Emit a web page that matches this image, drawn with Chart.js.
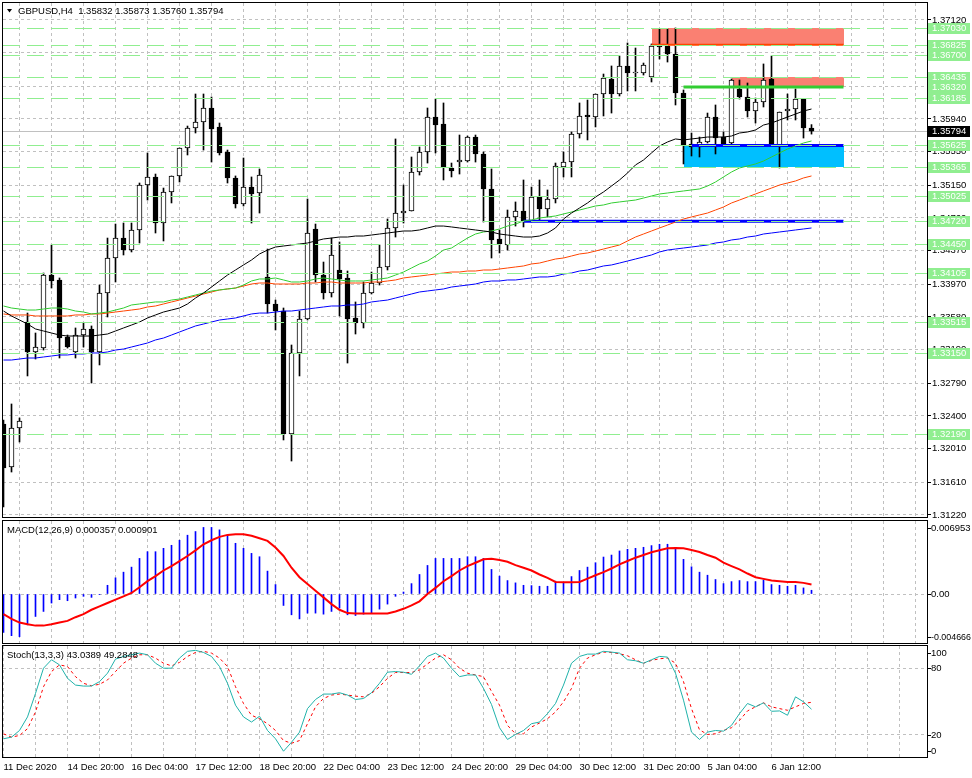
<!DOCTYPE html>
<html>
<head>
<meta charset="utf-8">
<title>GBPUSD,H4</title>
<script src="https://cdn.jsdelivr.net/npm/chart.js@4.4.1/dist/chart.umd.min.js"></script>
<style>
  html, body { margin: 0; padding: 0; background: #fff; }
  #wrap { position: relative; width: 972px; height: 778px; overflow: hidden; }
  canvas { position: absolute; left: 0; }
  #main { top: 0; }
  #macd { top: 519px; }
  #stoch { top: 645px; }
</style>
</head>
<body>
<div id="wrap">
  <canvas id="main" width="972" height="519"></canvas>
  <canvas id="macd" width="972" height="126"></canvas>
  <canvas id="stoch" width="972" height="133"></canvas>
</div>
<script>
// GBPUSD H4 with four moving averages, MACD and stochastic below
const symbol = 'GBPUSD,H4';

// H4 candles, oldest first
const priceOpen = [
  1.32304, 1.31792, 1.32257, 1.33520, 1.33163, 1.33210, 1.34080, 1.34021, 1.33341, 1.33163,
  1.33365, 1.33437, 1.33163, 1.33866, 1.34283, 1.34521, 1.34378, 1.34617, 1.35153, 1.35249,
  1.34700, 1.35070, 1.35261, 1.35594, 1.35833, 1.35904, 1.36071, 1.35845, 1.35547, 1.35237,
  1.34927, 1.35129, 1.35058, 1.34057, 1.33735, 1.33651, 1.32185, 1.33151, 1.33556, 1.34629,
  1.34080, 1.33866, 1.34140, 1.34045, 1.33568, 1.33508, 1.33866, 1.33985, 1.34176, 1.34641,
  1.34819, 1.34843, 1.35308, 1.35547, 1.35964, 1.35880, 1.35356, 1.35427, 1.35439, 1.35725,
  1.35523, 1.35106, 1.34510, 1.34438, 1.34772, 1.34843, 1.34724, 1.35010, 1.34867, 1.34986,
  1.35368, 1.35427, 1.35761, 1.35988, 1.35964, 1.36238, 1.36417, 1.36238, 1.36572, 1.36488,
  1.36488, 1.36441, 1.36810, 1.36810, 1.36715, 1.36250, 1.35642, 1.35606, 1.35666, 1.35964,
  1.35725, 1.35654, 1.36298, 1.36202, 1.36035, 1.36143, 1.36417, 1.35618, 1.36035, 1.36059,
  1.36178, 1.35832
];
const priceHigh = [
  1.32352, 1.32543, 1.32376, 1.33627, 1.33389, 1.34104, 1.34438, 1.34045, 1.33365, 1.33449,
  1.33508, 1.33473, 1.33961, 1.34521, 1.34688, 1.34700, 1.34700, 1.35177, 1.35535, 1.35284,
  1.35117, 1.35261, 1.35594, 1.35856, 1.36238, 1.36238, 1.36202, 1.35892, 1.35570, 1.35261,
  1.35475, 1.35249, 1.35344, 1.34390, 1.33782, 1.33687, 1.33246, 1.33651, 1.34986, 1.34688,
  1.34235, 1.34521, 1.34474, 1.34128, 1.33759, 1.33997, 1.34116, 1.34438, 1.34748, 1.35702,
  1.35153, 1.35487, 1.35606, 1.36071, 1.36178, 1.36131, 1.35415, 1.35749, 1.35737, 1.35749,
  1.35547, 1.35344, 1.34617, 1.34855, 1.34951, 1.35213, 1.35129, 1.35213, 1.35094, 1.35415,
  1.35547, 1.35785, 1.36131, 1.36166, 1.36238, 1.36476, 1.36572, 1.36691, 1.36846, 1.36786,
  1.36607, 1.36834, 1.37013, 1.37013, 1.37025, 1.36286, 1.35773, 1.35725, 1.36011, 1.36107,
  1.35785, 1.36417, 1.36405, 1.36369, 1.36190, 1.36596, 1.36691, 1.36023, 1.36238, 1.36298,
  1.36178, 1.35873
];
const priceLow = [
  1.31315, 1.31732, 1.32090, 1.32877, 1.33079, 1.33186, 1.33925, 1.33091, 1.33210, 1.33091,
  1.33222, 1.32793, 1.33008, 1.33580, 1.33997, 1.34319, 1.34355, 1.34462, 1.34974, 1.34581,
  1.34486, 1.34939, 1.35189, 1.35511, 1.35773, 1.35570, 1.35427, 1.35511, 1.35177, 1.34879,
  1.34903, 1.34700, 1.34819, 1.33627, 1.33425, 1.32114, 1.31863, 1.32877, 1.33544, 1.33997,
  1.33794, 1.33818, 1.33592, 1.33031, 1.33377, 1.33449, 1.33854, 1.33961, 1.34140, 1.34533,
  1.34700, 1.34843, 1.35272, 1.35415, 1.35535, 1.35213, 1.35249, 1.35284, 1.35427, 1.35427,
  1.34712, 1.34283, 1.34343, 1.34378, 1.34664, 1.34653, 1.34712, 1.34736, 1.34772, 1.34939,
  1.35249, 1.35249, 1.35713, 1.35690, 1.35845, 1.35976, 1.36011, 1.36214, 1.36274, 1.36274,
  1.36464, 1.36381, 1.36655, 1.36619, 1.36107, 1.35404, 1.35499, 1.35487, 1.35654, 1.35523,
  1.35630, 1.35642, 1.36178, 1.35964, 1.35892, 1.36083, 1.35618, 1.35356, 1.35928, 1.35928,
  1.35713, 1.35760
];
const priceClose = [
  1.31780, 1.32257, 1.32340, 1.33163, 1.33222, 1.34080, 1.34009, 1.33329, 1.33222, 1.33365,
  1.33437, 1.33163, 1.33866, 1.34283, 1.34521, 1.34378, 1.34617, 1.35153, 1.35249, 1.34700,
  1.35070, 1.35261, 1.35594, 1.35833, 1.35904, 1.36071, 1.35821, 1.35535, 1.35237, 1.34927,
  1.35129, 1.35046, 1.35272, 1.33735, 1.33651, 1.32185, 1.33151, 1.33556, 1.34581, 1.34080,
  1.33866, 1.34319, 1.34033, 1.33556, 1.33508, 1.33866, 1.33985, 1.34176, 1.34641, 1.34819,
  1.34843, 1.35308, 1.35547, 1.35964, 1.35868, 1.35368, 1.35320, 1.35451, 1.35725, 1.35523,
  1.35106, 1.34498, 1.34450, 1.34772, 1.34843, 1.34724, 1.35010, 1.34867, 1.34986, 1.35380,
  1.35427, 1.35761, 1.35976, 1.35964, 1.36238, 1.36429, 1.36238, 1.36572, 1.36488, 1.36500,
  1.36584, 1.36810, 1.36798, 1.36715, 1.36250, 1.35630, 1.35606, 1.35666, 1.35964, 1.35713,
  1.35642, 1.36405, 1.36202, 1.36035, 1.36143, 1.36405, 1.35618, 1.36023, 1.36059, 1.36178,
  1.35833, 1.35794
];

// moving averages on the price window
const maBlack = [
  1.33651, 1.33592, 1.33544, 1.33496, 1.33437, 1.33413, 1.33389, 1.33365, 1.33353, 1.33353,
  1.33353, 1.33353, 1.33365, 1.33377, 1.33413, 1.33449, 1.33484, 1.33520, 1.33568, 1.33604,
  1.33639, 1.33663, 1.33687, 1.33735, 1.33806, 1.33866, 1.33937, 1.34009, 1.34080, 1.34140,
  1.34200, 1.34259, 1.34331, 1.34378, 1.34414, 1.34426, 1.34438, 1.34450, 1.34462, 1.34486,
  1.34510, 1.34521, 1.34533, 1.34533, 1.34545, 1.34545, 1.34557, 1.34569, 1.34581, 1.34593,
  1.34605, 1.34605, 1.34617, 1.34641, 1.34664, 1.34664, 1.34653, 1.34641, 1.34629, 1.34617,
  1.34605, 1.34593, 1.34569, 1.34557, 1.34545, 1.34533, 1.34533, 1.34545, 1.34581, 1.34641,
  1.34748, 1.34819, 1.34879, 1.34939, 1.35010, 1.35070, 1.35141, 1.35213, 1.35296, 1.35392,
  1.35451, 1.35535, 1.35618, 1.35666, 1.35702, 1.35690, 1.35702, 1.35713, 1.35725, 1.35725,
  1.35725, 1.35737, 1.35773, 1.35785, 1.35809, 1.35868, 1.35892, 1.35928, 1.35964, 1.35999,
  1.36035, 1.36059
];
const maGreen = [
  1.33711, 1.33687, 1.33675, 1.33663, 1.33663, 1.33675, 1.33687, 1.33687, 1.33675, 1.33651,
  1.33639, 1.33616, 1.33627, 1.33639, 1.33663, 1.33687, 1.33723, 1.33735, 1.33747, 1.33759,
  1.33759, 1.33782, 1.33794, 1.33818, 1.33842, 1.33866, 1.33890, 1.33902, 1.33914, 1.33925,
  1.33961, 1.34009, 1.34033, 1.34033, 1.34045, 1.34021, 1.33997, 1.33997, 1.34009, 1.34033,
  1.34045, 1.34033, 1.34021, 1.34009, 1.34009, 1.34009, 1.34021, 1.34033, 1.34045, 1.34080,
  1.34116, 1.34164, 1.34212, 1.34247, 1.34307, 1.34378, 1.34402, 1.34462, 1.34521, 1.34569,
  1.34593, 1.34605, 1.34629, 1.34664, 1.34688, 1.34724, 1.34736, 1.34760, 1.34772, 1.34784,
  1.34808, 1.34831, 1.34855, 1.34879, 1.34903, 1.34915, 1.34939, 1.34951, 1.34963, 1.34974,
  1.34998, 1.35022, 1.35046, 1.35058, 1.35070, 1.35082, 1.35094, 1.35106, 1.35141, 1.35189,
  1.35249, 1.35308, 1.35356, 1.35380, 1.35404, 1.35439, 1.35487, 1.35535, 1.35582, 1.35618,
  1.35654, 1.35678
];
const maRed = [
  1.33616, 1.33604, 1.33604, 1.33604, 1.33592, 1.33592, 1.33592, 1.33592, 1.33592, 1.33604,
  1.33604, 1.33616, 1.33616, 1.33627, 1.33639, 1.33651, 1.33663, 1.33675, 1.33699, 1.33711,
  1.33735, 1.33759, 1.33782, 1.33806, 1.33830, 1.33854, 1.33878, 1.33902, 1.33914, 1.33925,
  1.33949, 1.33973, 1.33985, 1.33985, 1.33973, 1.33973, 1.33973, 1.33973, 1.33985, 1.33985,
  1.33997, 1.33997, 1.33985, 1.33985, 1.33985, 1.33985, 1.33997, 1.33997, 1.34009, 1.34021,
  1.34045, 1.34057, 1.34068, 1.34080, 1.34092, 1.34104, 1.34116, 1.34116, 1.34128, 1.34128,
  1.34140, 1.34140, 1.34152, 1.34164, 1.34176, 1.34188, 1.34212, 1.34223, 1.34247, 1.34271,
  1.34283, 1.34307, 1.34331, 1.34343, 1.34366, 1.34390, 1.34414, 1.34438, 1.34486, 1.34533,
  1.34569, 1.34605, 1.34641, 1.34676, 1.34712, 1.34748, 1.34772, 1.34796, 1.34819, 1.34855,
  1.34891, 1.34939, 1.34974, 1.35010, 1.35046, 1.35082, 1.35117, 1.35153, 1.35177, 1.35201,
  1.35237, 1.35261
];
const maBlue = [
  1.33067, 1.33067, 1.33079, 1.33091, 1.33091, 1.33103, 1.33115, 1.33127, 1.33127, 1.33139,
  1.33139, 1.33151, 1.33151, 1.33163, 1.33186, 1.33198, 1.33222, 1.33246, 1.33270, 1.33306,
  1.33329, 1.33365, 1.33401, 1.33437, 1.33473, 1.33496, 1.33520, 1.33544, 1.33556, 1.33568,
  1.33592, 1.33616, 1.33627, 1.33627, 1.33639, 1.33651, 1.33651, 1.33663, 1.33675, 1.33687,
  1.33699, 1.33711, 1.33711, 1.33723, 1.33723, 1.33735, 1.33759, 1.33771, 1.33782, 1.33806,
  1.33830, 1.33854, 1.33878, 1.33890, 1.33902, 1.33914, 1.33937, 1.33949, 1.33961, 1.33973,
  1.33997, 1.34009, 1.34009, 1.34021, 1.34021, 1.34033, 1.34045, 1.34057, 1.34057, 1.34068,
  1.34092, 1.34104, 1.34128, 1.34140, 1.34164, 1.34188, 1.34200, 1.34223, 1.34247, 1.34271,
  1.34295, 1.34319, 1.34355, 1.34378, 1.34390, 1.34402, 1.34414, 1.34426, 1.34438, 1.34462,
  1.34474, 1.34498, 1.34510, 1.34533, 1.34545, 1.34569, 1.34581, 1.34593, 1.34605, 1.34617,
  1.34629, 1.34641
];

// MACD(12,26,9): histogram and signal
const macdMain = [
  -0.00365, -0.00397, -0.00406, -0.00294, -0.00214, -0.00166, -0.00086, -0.00054, -0.00064, -0.00038,
  -0.00022, -0.00032, -0.00006, 0.00083, 0.00154, 0.00208, 0.00256, 0.00339, 0.00403, 0.00403,
  0.00435, 0.00464, 0.00512, 0.00560, 0.00595, 0.00634, 0.00634, 0.00611, 0.00563, 0.00483,
  0.00435, 0.00387, 0.00355, 0.00218, 0.00090, -0.00109, -0.00198, -0.00237, -0.00182, -0.00182,
  -0.00192, -0.00166, -0.00134, -0.00198, -0.00205, -0.00192, -0.00182, -0.00144, -0.00096, -0.00022,
  0.00019, 0.00099, 0.00186, 0.00272, 0.00339, 0.00339, 0.00339, 0.00339, 0.00355, 0.00355,
  0.00339, 0.00234, 0.00170, 0.00128, 0.00106, 0.00083, 0.00080, 0.00074, 0.00074, 0.00122,
  0.00112, 0.00166, 0.00224, 0.00256, 0.00298, 0.00352, 0.00371, 0.00410, 0.00426, 0.00435,
  0.00445, 0.00461, 0.00474, 0.00474, 0.00435, 0.00330, 0.00259, 0.00208, 0.00179, 0.00138,
  0.00099, 0.00118, 0.00128, 0.00118, 0.00118, 0.00134, 0.00090, 0.00083, 0.00074, 0.00083,
  0.00058, 0.000357
];
const macdSignal = [
  -0.00192, -0.00237, -0.00272, -0.00288, -0.00301, -0.00301, -0.00288, -0.00272, -0.00256, -0.00221,
  -0.00192, -0.00150, -0.00118, -0.00086, -0.00054, -0.00022, 0.00010, 0.00064, 0.00122, 0.00170,
  0.00224, 0.00266, 0.00314, 0.00362, 0.00416, 0.00474, 0.00512, 0.00544, 0.00563, 0.00570,
  0.00570, 0.00554, 0.00531, 0.00506, 0.00442, 0.00362, 0.00250, 0.00160, 0.00096, 0.00032,
  -0.00032, -0.00096, -0.00150, -0.00182, -0.00186, -0.00186, -0.00186, -0.00186, -0.00186, -0.00166,
  -0.00141, -0.00109, -0.00070, 0.00000, 0.00058, 0.00122, 0.00170, 0.00224, 0.00266, 0.00298,
  0.00330, 0.00336, 0.00323, 0.00307, 0.00275, 0.00250, 0.00224, 0.00186, 0.00154, 0.00115,
  0.00112, 0.00112, 0.00115, 0.00147, 0.00179, 0.00208, 0.00243, 0.00282, 0.00314, 0.00346,
  0.00371, 0.00397, 0.00416, 0.00435, 0.00438, 0.00435, 0.00419, 0.00400, 0.00371, 0.00346,
  0.00298, 0.00266, 0.00234, 0.00195, 0.00160, 0.00144, 0.00128, 0.00122, 0.00115, 0.00115,
  0.00106, 0.000901
];

// Stoch(13,3,3)
const stochMain = [
  16.4, 17.9, 23.9, 36.1, 57.3, 80.0, 87.6, 83.0, 70.9, 64.8,
  63.9, 63.9, 67.9, 75.5, 88.2, 90.6, 92.1, 93.6, 92.1, 84.5,
  80.0, 80.0, 89.1, 95.2, 96.1, 94.2, 90.6, 81.5, 66.4, 46.7,
  36.1, 31.5, 36.7, 23.9, 16.4, 5.2, 13.3, 22.4, 43.6, 51.8,
  56.7, 56.7, 57.9, 55.8, 51.8, 52.7, 57.9, 66.4, 76.4, 77.0,
  76.4, 74.5, 82.1, 90.6, 93.6, 89.1, 80.0, 72.4, 73.9, 73.9,
  61.8, 47.3, 26.4, 15.8, 20.3, 23.9, 30.0, 31.5, 39.1, 48.2,
  64.8, 84.5, 90.6, 92.7, 92.7, 95.2, 94.5, 93.6, 87.6, 86.7,
  84.5, 87.6, 90.6, 90.0, 75.5, 51.2, 22.4, 15.8, 22.4, 23.9,
  23.3, 28.5, 39.1, 48.2, 45.2, 48.8, 41.2, 41.5, 37.6, 54.2,
  49.7, 43.0389
];
const stochSignal = [
  20.9, 17.9, 19.4, 25.5, 40.6, 63.3, 77.0, 83.0, 81.5, 72.4,
  66.4, 64.2, 65.5, 69.4, 77.0, 84.5, 89.1, 92.1, 92.1, 89.1,
  84.5, 82.1, 85.2, 90.6, 94.2, 95.2, 93.6, 89.1, 81.5, 63.3,
  48.2, 37.6, 34.5, 30.0, 23.9, 14.8, 12.4, 14.8, 30.0, 45.2,
  52.7, 55.8, 56.7, 55.8, 54.8, 54.2, 57.3, 63.3, 70.9, 76.1,
  76.1, 76.1, 78.5, 83.9, 89.1, 92.1, 87.6, 80.0, 75.5, 73.9,
  72.4, 59.1, 46.7, 28.5, 20.9, 20.9, 27.0, 30.6, 34.5, 40.6,
  49.7, 61.8, 80.0, 89.1, 92.1, 94.5, 94.2, 93.0, 91.2, 87.6,
  84.5, 87.0, 88.5, 89.1, 84.5, 67.9, 43.6, 24.5, 20.3, 20.9,
  23.9, 26.4, 33.0, 41.5, 45.2, 48.8, 45.2, 43.6, 42.1, 45.2,
  48.2, 49.2848
];

// time scale: one label every 8 bars
const timeLabels = [
  '11 Dec 2020', '14 Dec 20:00', '16 Dec 04:00', '17 Dec 12:00', '18 Dec 20:00',
  '22 Dec 04:00', '23 Dec 12:00', '24 Dec 20:00', '29 Dec 04:00', '30 Dec 12:00',
  '31 Dec 20:00', '5 Jan 04:00', '6 Jan 12:00'
];

// price scale
const priceTickLabels = [
  '1.37120', '1.36730', '1.36330', '1.35940', '1.35550', '1.35150', '1.34760', '1.34370',
  '1.33970', '1.33580', '1.33190', '1.32790', '1.32400', '1.32010', '1.31610', '1.31220'
];
const priceMin = 1.311958;
const priceMax = 1.373226;

// indicator scales
const macdTicks = [0.006953, 0, -0.004666];
const macdTickLabels = ['0.006953', '0.00', '-0.004666'];
const stochTicks = [100, 80, 20, 0];

// dashed horizontal levels (each with a price tag)
const levelPrices = [
  1.37030, 1.36825, 1.36700, 1.36435, 1.36185, 1.35625, 1.35365,
  1.35025, 1.34720, 1.34450, 1.34105, 1.33515, 1.33150, 1.32190
];
const tagOnlyPrices = [1.36320];

// rectangles: bar range and price range
const zoneFrom = [81, 91, 85];
const zoneTo = [105, 105, 105];
const zoneTop = [1.37030, 1.36435, 1.35625];
const zoneBottom = [1.36825, 1.36320, 1.35365];

// solid horizontal segments
const segFrom = [81, 85, 86, 65];
const segTo = [105, 105, 105, 105];
const segPrice = [1.36825, 1.36320, 1.35625, 1.34720];

// ---- drawing ----
const FAMILY = '"Liberation Sans", Arial, sans-serif';
const FONT = '9.5px ' + FAMILY;
const tickFont = { family: FAMILY, size: 9.5 };
const GRID = '#c0c0c0';
const zoneColors = ['#fa8072', '#fa8072', '#00bfff'];
const segColors = ['#ff4500', '#32cd32', '#0000ff', '#0000ff'];
const segWidths = [2, 3, 3, 3];

const last = priceClose.length - 1;
const bars = priceOpen.map((_, i) => i);
const pts = arr => arr.map((v, i) => ({ x: i, y: v }));
const gridBars = [];
for (let b = 0; b <= 112; b += 4) gridBars.push(b);

function timeScale(showLabels) {
  return {
    type: 'linear', min: -0.0625, max: 115.4375, offset: false,
    afterBuildTicks: s => { s.ticks = gridBars.map(v => ({ value: v })); },
    grid: { color: GRID, drawTicks: false },
    border: { display: false, dash: [3, 3] },
    ticks: {
      display: showLabels, autoSkip: false, maxRotation: 0, minRotation: 0,
      align: 'start', padding: 5, color: '#000', font: tickFont,
      callback: v => (v % 8 === 0 && timeLabels[v / 8]) || ''
    },
    afterFit: s => { s.height = showLabels ? 21 : 0; s.paddingLeft = 0; s.paddingRight = 0; }
  };
}

function sideScale(min, max, gridValues) {
  return {
    position: 'right', min, max,
    afterBuildTicks: s => { s.ticks = gridValues.map(v => ({ value: v })); },
    grid: { color: GRID, drawTicks: false },
    border: { display: false, dash: [3, 3] },
    ticks: { display: false },
    afterFit: s => { s.width = 45; s.paddingTop = 0; s.paddingBottom = 0; }
  };
}

const baseOptions = {
  animation: false, responsive: false, maintainAspectRatio: false, events: [],
  plugins: { legend: { display: false }, tooltip: { enabled: false } }
};

function tag(ctx, left, y, text, bg, fg) {
  const yc = Math.round(y);
  ctx.fillStyle = bg;
  ctx.fillRect(left + 1, yc - 5, 42, 11);
  ctx.fillStyle = fg;
  ctx.fillText(text, left + 5, yc + 0.5);
}

const mainDecor = {
  id: 'mainDecor',
  beforeDatasetsDraw(chart) {
    const { ctx, chartArea: a, scales: { x, y } } = chart;
    ctx.save();
    ctx.beginPath();
    ctx.rect(a.left, a.top, a.width, a.height);
    ctx.clip();
    zoneTop.forEach((top, k) => {
      const x0 = Math.round(x.getPixelForValue(zoneFrom[k]));
      const x1 = Math.round(x.getPixelForValue(zoneTo[k]));
      const y0 = Math.round(y.getPixelForValue(top));
      const y1 = Math.round(y.getPixelForValue(zoneBottom[k]));
      ctx.fillStyle = zoneColors[k];
      ctx.fillRect(x0, y0, x1 - x0, y1 - y0);
    });
    // bid line
    const yb = Math.round(y.getPixelForValue(priceClose[last])) + 0.5;
    ctx.strokeStyle = GRID;
    ctx.lineWidth = 1;
    ctx.beginPath();
    ctx.moveTo(a.left, yb);
    ctx.lineTo(a.right, yb);
    ctx.stroke();
    ctx.restore();
  },
  afterDatasetsDraw(chart) {
    const { ctx, chartArea: a, scales: { y } } = chart;
    ctx.save();
    ctx.strokeStyle = '#90ee90';
    ctx.lineWidth = 1;
    ctx.setLineDash([17, 7]);
    levelPrices.forEach(p => {
      const py = Math.round(y.getPixelForValue(p)) + 0.5;
      ctx.beginPath();
      ctx.moveTo(a.left, py);
      ctx.lineTo(a.right, py);
      ctx.stroke();
    });
    ctx.restore();
  },
  afterDraw(chart) {
    const { ctx, chartArea: a, scales: { y } } = chart;
    ctx.save();
    ctx.strokeStyle = '#000';
    ctx.lineWidth = 1;
    ctx.strokeRect(a.left - 0.5, a.top - 0.5, a.width + 1, a.height + 1);
    ctx.font = FONT;
    ctx.textAlign = 'left';
    ctx.textBaseline = 'middle';
    levelPrices.concat(tagOnlyPrices).forEach(p => {
      tag(ctx, a.right, y.getPixelForValue(p), p.toFixed(5), '#90ee90', '#fff');
    });
    tag(ctx, a.right, y.getPixelForValue(priceClose[last]), priceClose[last].toFixed(5), '#000', '#fff');
    // title
    ctx.fillStyle = '#000';
    ctx.beginPath();
    ctx.moveTo(7, 9);
    ctx.lineTo(12, 9);
    ctx.lineTo(9.5, 12.5);
    ctx.closePath();
    ctx.fill();
    const ohlc = [priceOpen[last], priceHigh[last], priceLow[last], priceClose[last]].map(v => v.toFixed(5)).join(' ');
    ctx.fillText(symbol + '  ' + ohlc, 18, 11);
    ctx.restore();
  }
};

function panelDecor(id, title, values, texts) {
  return {
    id,
    afterDraw(chart) {
      const { ctx, chartArea: a, scales: { y } } = chart;
      ctx.save();
      ctx.strokeStyle = '#000';
      ctx.lineWidth = 1;
      ctx.strokeRect(a.left - 0.5, a.top - 0.5, a.width + 1, a.height + 1);
      ctx.font = FONT;
      ctx.fillStyle = '#000';
      ctx.textAlign = 'left';
      ctx.textBaseline = 'middle';
      values.forEach((v, k) => {
        const ty = Math.round(Math.min(Math.max(y.getPixelForValue(v), a.top + 7), a.bottom - 6));
        ctx.fillRect(a.right, ty, 4, 1);
        ctx.fillText(texts[k], a.right + 4, ty + 0.5, 40);
      });
      ctx.fillText(title, 7, a.top + 9);
      ctx.restore();
    }
  };
}

// price window
const maLines = [[maBlack, '#000000'], [maGreen, '#32cd32'], [maRed, '#ff4500'], [maBlue, '#0000ff']].map(([arr, col]) => ({
  type: 'line', data: pts(arr), borderColor: col, borderWidth: 1, pointRadius: 0, tension: 0, order: 0
}));
const segLines = segPrice.map((p, k) => ({
  type: 'line', data: [{ x: segFrom[k], y: p }, { x: segTo[k], y: p }],
  borderColor: segColors[k], borderWidth: segWidths[k], pointRadius: 0, order: 1
}));

new Chart(document.getElementById('main'), {
  type: 'bar',
  data: {
    datasets: [
      ...maLines,
      ...segLines,
      {
        type: 'bar', data: bars.map(i => ({ x: i, y: [priceOpen[i], priceClose[i]] })),
        backgroundColor: bars.map(i => priceClose[i] >= priceOpen[i] ? '#ffffff' : '#000000'),
        borderColor: '#000', borderWidth: 1, borderSkipped: false,
        barThickness: 5, minBarLength: 1, grouped: false, order: 2
      },
      {
        type: 'bar', data: bars.map(i => ({ x: i, y: [priceLow[i], priceHigh[i]] })),
        backgroundColor: '#000', borderWidth: 0, barThickness: 1, grouped: false, order: 3
      }
    ]
  },
  options: {
    ...baseOptions,
    layout: { padding: { left: 3, top: 3, right: 0, bottom: 2 } },
    scales: {
      x: timeScale(false),
      y: {
        position: 'right', min: priceMin, max: priceMax,
        afterBuildTicks: s => { s.ticks = priceTickLabels.map(t => ({ value: Number(t) })); },
        grid: { color: GRID, tickColor: '#000', tickLength: 4, tickBorderDash: [] },
        border: { display: false, dash: [3, 3] },
        ticks: { autoSkip: false, padding: 1, color: '#000', font: tickFont, callback: (v, i) => priceTickLabels[i] },
        afterFit: s => { s.width = 45; s.paddingTop = 0; s.paddingBottom = 0; }
      }
    }
  },
  plugins: [mainDecor]
});

// MACD window
new Chart(document.getElementById('macd'), {
  type: 'bar',
  data: {
    datasets: [
      { type: 'line', data: pts(macdSignal), borderColor: '#ff0000', borderWidth: 2, pointRadius: 0, tension: 0, order: 0 },
      { type: 'bar', data: pts(macdMain), backgroundColor: '#0000ff', barThickness: 1, grouped: false, order: 1 }
    ]
  },
  options: {
    ...baseOptions,
    layout: { padding: { left: 3, top: 2, right: 0, bottom: 2 } },
    scales: { x: timeScale(false), y: sideScale(macdTicks[2], macdTicks[0], [0]) }
  },
  plugins: [panelDecor('macdDecor',
    'MACD(12,26,9) ' + macdMain[last].toFixed(6) + ' ' + macdSignal[last].toFixed(6),
    macdTicks, macdTickLabels)]
});

// Stochastic window
new Chart(document.getElementById('stoch'), {
  type: 'line',
  data: {
    datasets: [
      { data: pts(stochMain), borderColor: '#20b2aa', borderWidth: 1, pointRadius: 0, tension: 0 },
      { data: pts(stochSignal), borderColor: '#ff0000', borderWidth: 1, borderDash: [3, 3], pointRadius: 0, tension: 0 }
    ]
  },
  options: {
    ...baseOptions,
    layout: { padding: { left: 3, top: 1, right: 0, bottom: 0 } },
    scales: { x: timeScale(true), y: sideScale(0, 100, [20, 80]) }
  },
  plugins: [panelDecor('stochDecor',
    'Stoch(13,3,3) ' + stochMain[last].toFixed(4) + ' ' + stochSignal[last].toFixed(4),
    stochTicks, stochTicks.map(String))]
});
</script>
</body>
</html>
